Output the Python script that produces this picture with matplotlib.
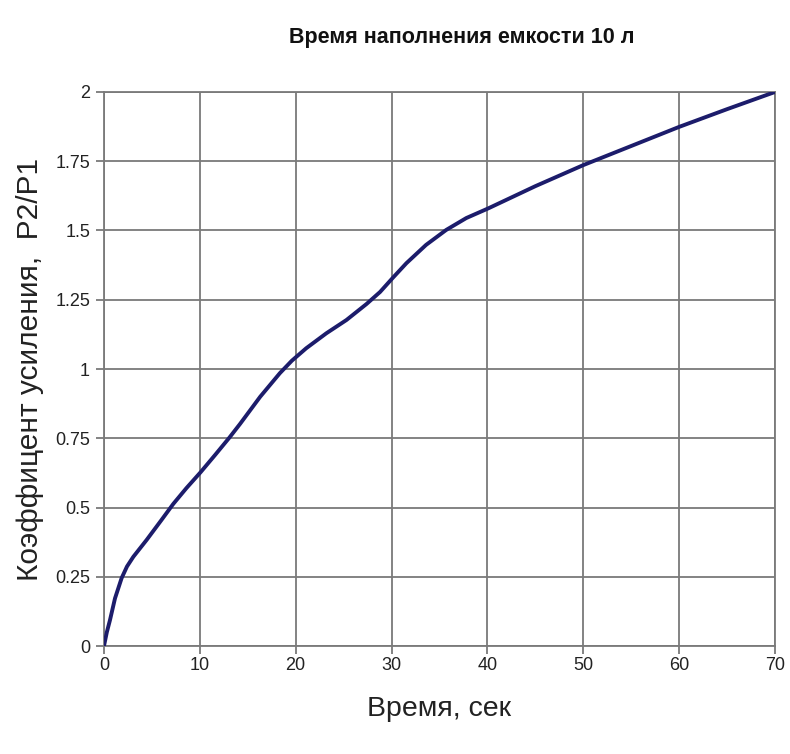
import matplotlib
matplotlib.use("Agg")
import matplotlib.pyplot as plt

# ======= Dane =======
time_s = [0.0, 0.3, 0.63, 1.15, 1.84, 2.4, 3.06, 4.45, 6.0, 7.23, 8.6, 10.07,
          11.6, 13.1, 14.2, 16.3, 18.35, 19.6, 21.1, 23.2, 25.3, 27.4, 28.8,
          30.1, 31.55, 33.6, 35.7, 37.8, 40.1, 45.0, 50.0, 55.0, 60.0, 65.0, 70.0]
gain = [0.0, 0.05, 0.094, 0.172, 0.245, 0.287, 0.322, 0.383, 0.455, 0.513, 0.57,
        0.627, 0.69, 0.753, 0.802, 0.90, 0.985, 1.03, 1.075, 1.129, 1.177, 1.235,
        1.278, 1.328, 1.382, 1.448, 1.502, 1.545, 1.58, 1.66, 1.736, 1.805,
        1.874, 1.938, 2.0]

x_ticks = [0, 10, 20, 30, 40, 50, 60, 70]
y_ticks = [0, 0.25, 0.5, 0.75, 1, 1.25, 1.5, 1.75, 2]
y_tick_labels = ["0", "0.25", "0.5", "0.75", "1", "1.25", "1.5", "1.75", "2"]

TITLE = "Время наполнения емкости 10 л"
XLABEL = "Время, сек"
YLABEL = "Коэффицент усиления,  P2/P1"

FONT = "Liberation Sans"
GRID = "#7a7a7a"

fig = plt.figure(figsize=(7.9, 7.54), dpi=100)
ax = fig.add_axes([0.1316, 0.1432, 0.8494, 0.7348])

ax.plot(time_s, gain, color="#1c1c6b", lw=2.8, solid_capstyle="round",
        solid_joinstyle="round", zorder=3)

ax.set_xlim(0, 70)
ax.set_ylim(0, 2)
ax.set_xticks(x_ticks)
ax.set_yticks(y_ticks)
ax.set_yticklabels(y_tick_labels)
ax.grid(True, color=GRID, lw=1.3)
for s in ax.spines.values():
    s.set_color(GRID)
    s.set_linewidth(1.3)
ax.tick_params(direction="out", length=6, width=1.3, color=GRID,
               labelsize=13, labelcolor="#222222", pad=4)
ax.tick_params(axis="x", pad=2)
for lab in ax.get_xticklabels() + ax.get_yticklabels():
    lab.set_family(FONT)

ax.set_xlabel(XLABEL, family=FONT, fontsize=20.5, color="#222222", labelpad=16)
ax.set_ylabel(YLABEL, family=FONT, fontsize=21.5, color="#222222", labelpad=8)
fig.text(0.585, 0.95, TITLE, family=FONT, fontsize=15.5, fontweight="bold",
         color="#111111", ha="center", va="center")

fig.savefig("out.png", dpi=100)
